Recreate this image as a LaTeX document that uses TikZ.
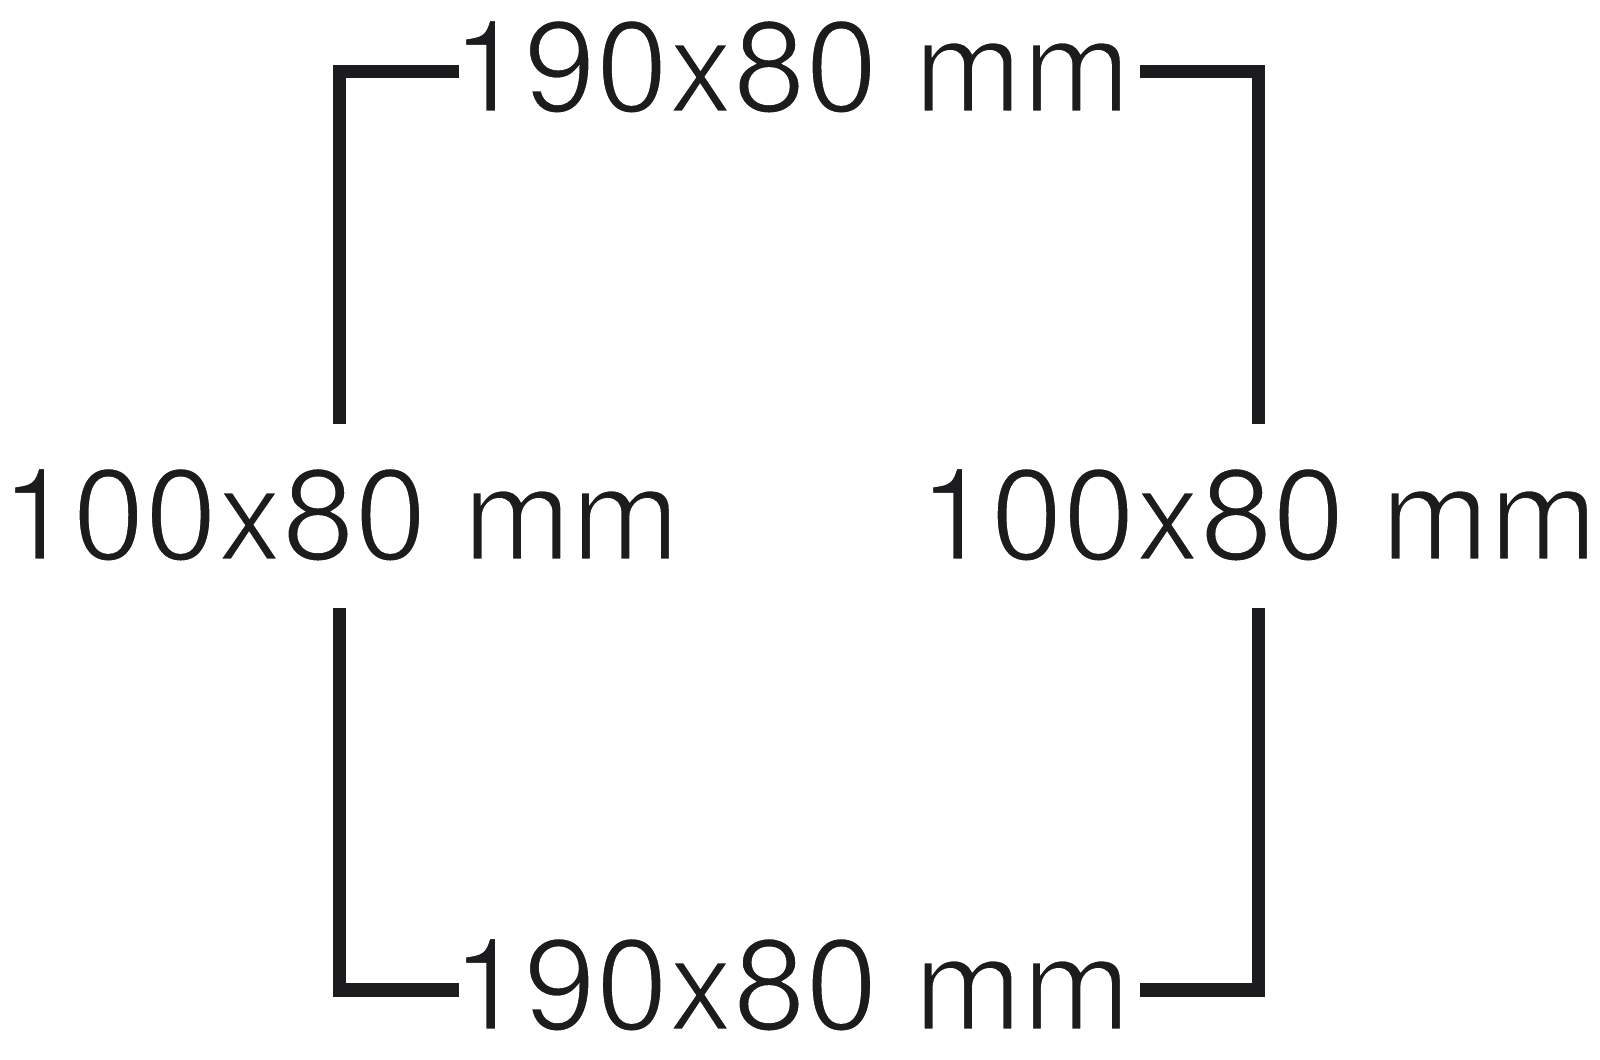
\documentclass[tikz,border=0pt]{standalone}
\usepackage{fontspec}
\setmainfont{TeX Gyre Heros}
\definecolor{frameink}{HTML}{1C1C1E}
% lighter strokes: glyph outlines trimmed with a thin white stroke
\newcommand\thinlabel[1]{\special{pdf:literal direct 2 Tr 1 1 1 RG 0.8 w}#1\special{pdf:literal direct 0 Tr}}
\tikzset{
	frameline/.style={line width=3.9pt, color=frameink, line join=miter},
	sizelabel/.style={inner sep=0pt, anchor=base, text=frameink, font=\fontsize{37pt}{44pt}\selectfont}
}

\begin{document}
\begin{tikzpicture}
			%%%%% START %%%%%
			\useasboundingbox (0, 0) rectangle (16, 10.59);
			
			\node[sizelabel] (top) at (7.91, 9.47) {\thinlabel{190x80 mm}};
			\node[sizelabel] (bottom) at (7.91, 0.29) {\thinlabel{190x80 mm}};
			\node[sizelabel] (left) at (3.40, 4.99) {\thinlabel{100x80 mm}};
			\node[sizelabel] (right) at (12.58, 4.99) {\thinlabel{100x80 mm}};
			
			\coordinate (tl) at (3.395, 9.875);
			\coordinate (tr) at (12.585, 9.875);
			\coordinate (bl) at (3.395, 0.69);
			\coordinate (br) at (12.585, 0.69);
			
			\coordinate (top-w) at (4.59, 9.875);
			\coordinate (top-e) at (11.40, 9.875);
			\coordinate (bottom-w) at (4.59, 0.69);
			\coordinate (bottom-e) at (11.40, 0.69);
			\coordinate (left-n) at (3.395, 6.35);
			\coordinate (left-s) at (3.395, 4.51);
			\coordinate (right-n) at (12.585, 6.35);
			\coordinate (right-s) at (12.585, 4.51);
			
			\draw[frameline] (top-w) -- (tl) -- (left-n);
			\draw[frameline] (top-e) -- (tr) -- (right-n);
			\draw[frameline] (left-s) -- (bl) -- (bottom-w);
			\draw[frameline] (right-s) -- (br) -- (bottom-e);
			
			%%%%% END %%%%%
		\end{tikzpicture}
\end{document}
